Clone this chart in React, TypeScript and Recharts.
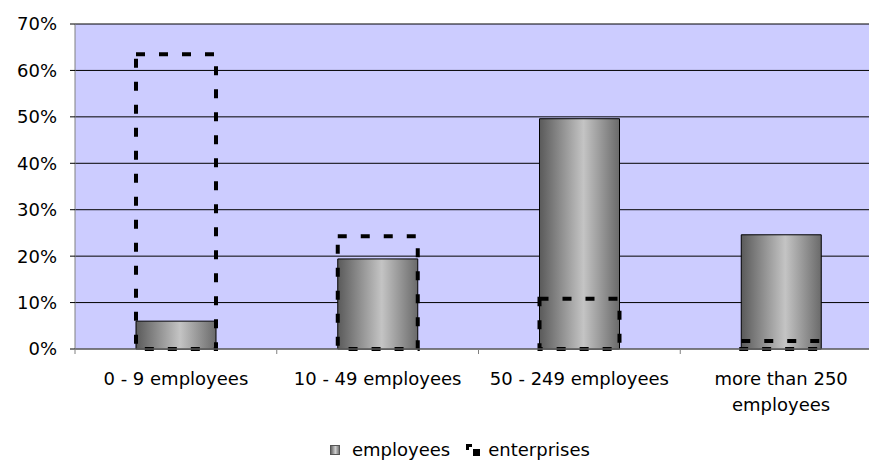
import { Bar, BarChart, CartesianGrid, XAxis, YAxis } from "recharts";

const categories = ['0 - 9 employees', '10 - 49 employees', '50 - 249 employees', 'more than 250 employees'];
const employees = [6, 19.4, 49.6, 24.6];
const enterprises = [63.5, 24.3, 10.8, 1.7];
const yTicks = [0, 10, 20, 30, 40, 50, 60, 70];

const chartData = categories.map((name, i) => ({
  name,
  employees: employees[i],
  enterprises: enterprises[i],
}));

const FONT = '"DejaVu Sans", Verdana, sans-serif';

function wrap(label: string, max: number) {
  const lines: string[] = [];
  let cur = '';
  for (const w of label.split(' ')) {
    const next = cur ? cur + ' ' + w : w;
    if (next.length > max && cur) {
      lines.push(cur);
      cur = w;
    } else {
      cur = next;
    }
  }
  if (cur) lines.push(cur);
  return lines;
}

// label at the band centre, tick marks at the band edges (excel style)
function CategoryTick(props: any) {
  const { x, y, payload, index, visibleTicksCount } = props;
  const half = payload.offset || 0;
  const lines = wrap(String(payload.value), 18);
  const isLast = index === visibleTicksCount - 1;
  return (
    <g>
      <line x1={x - half} x2={x - half} y1={y - 5} y2={y} stroke="#808080" />
      {isLast && <line x1={x + half} x2={x + half} y1={y - 5} y2={y} stroke="#808080" />}
      <text x={x} y={y} textAnchor="middle" fontSize={18} fontFamily={FONT} fill="#000">
        {lines.map((l, i) => (
          <tspan key={i} x={x} dy={i === 0 ? 31 : 26}>{l}</tspan>
        ))}
      </text>
    </g>
  );
}

export default function App() {
  return (
    <div style={{ position: 'absolute', left: 0, top: 0, width: 869, height: 460, overflow: 'hidden', background: '#fff', fontFamily: FONT }}>
      <BarChart width={900} height={460} data={chartData} margin={{ top: 24, right: 18, left: 0, bottom: 0 }}>
        <defs>
          <linearGradient id="empFill" x1="0" y1="0" x2="1" y2="0">
            <stop offset="0%" stopColor="#5a5a5a" />
            <stop offset="55%" stopColor="#c4c4c4" />
            <stop offset="100%" stopColor="#6a6a6a" />
          </linearGradient>
        </defs>
        <CartesianGrid xAxisId="emp" vertical={false} stroke="#000" fill="#CCCCFF" fillOpacity={1} />
        <XAxis
          xAxisId="emp"
          dataKey="name"
          height={111}
          axisLine={{ stroke: '#808080' }}
          tickLine={false}
          tickSize={5}
          tickMargin={0}
          interval={0}
          tick={<CategoryTick />}
        />
        <XAxis xAxisId="ent" dataKey="name" hide />
        <YAxis
          width={75}
          domain={[0, 70]}
          ticks={yTicks}
          tickFormatter={(v) => `${v}%`}
          tick={{ fontSize: 18, fontFamily: FONT, fill: '#000' }}
          tickSize={5}
          tickMargin={13}
          tickLine={{ stroke: '#000' }}
          axisLine={{ stroke: '#808080' }}
        />
        <Bar xAxisId="emp" dataKey="employees" barSize={80} fill="url(#empFill)" stroke="#000" strokeWidth={1} isAnimationActive={false} />
        <Bar xAxisId="ent" dataKey="enterprises" barSize={80} fill="none" stroke="#000" strokeWidth={4} strokeDasharray="9 14" isAnimationActive={false} />
      </BarChart>
      <div style={{ position: 'absolute', left: 330, top: 439, display: 'flex', alignItems: 'center', fontSize: 18, color: '#000', lineHeight: '22px', whiteSpace: 'nowrap' }}>
        <svg width={10} height={10} style={{ marginRight: 12 }}>
          <defs>
            <linearGradient id="empFillLegend" x1="0" y1="0" x2="1" y2="0">
              <stop offset="0%" stopColor="#5a5a5a" />
              <stop offset="55%" stopColor="#d0d0d0" />
              <stop offset="100%" stopColor="#6a6a6a" />
            </linearGradient>
          </defs>
          <rect x={0.5} y={0.5} width={9} height={9} fill="url(#empFillLegend)" stroke="#555" />
        </svg>
        <span>employees</span>
        <svg width={14} height={12} style={{ marginLeft: 16, marginRight: 8 }}>
          <rect x={0} y={0} width={6} height={3} fill="#000" />
          <rect x={0} y={0} width={3} height={6} fill="#000" />
          <rect x={7} y={5} width={7} height={7} fill="#000" />
        </svg>
        <span>enterprises</span>
      </div>
    </div>
  );
}
